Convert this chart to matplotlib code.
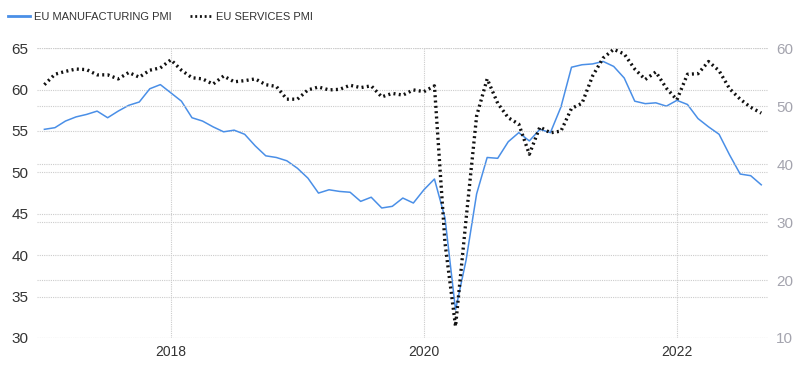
#!/usr/bin/env python3
"""EU manufacturing vs services PMI, monthly, 2017-2022 (two y axes)."""
import numpy as np
import matplotlib
matplotlib.use("Agg")
import matplotlib.pyplot as plt
from matplotlib.lines import Line2D

plt.rcParams["font.family"] = ["Liberation Sans", "DejaVu Sans"]

# Monthly readings, Jan 2017 .. Sep 2022
START_YEAR = 2017
manufacturing_pmi = [
    55.2, 55.4, 56.2, 56.7, 57.0, 57.4, 56.6, 57.4, 58.1, 58.5, 60.1, 60.6,  # 2017
    59.6, 58.6, 56.6, 56.2, 55.5, 54.9, 55.1, 54.6, 53.2, 52.0, 51.8, 51.4,  # 2018
    50.5, 49.3, 47.5, 47.9, 47.7, 47.6, 46.5, 47.0, 45.7, 45.9, 46.9, 46.3,  # 2019
    47.9, 49.2, 44.5, 33.4, 39.4, 47.4, 51.8, 51.7, 53.7, 54.8, 53.8, 55.2,  # 2020
    54.8, 57.9, 62.7, 63.0, 63.1, 63.4, 62.8, 61.4, 58.6, 58.3, 58.4, 58.0,  # 2021
    58.7, 58.2, 56.5, 55.5, 54.6, 52.1, 49.8, 49.6, 48.5,                    # 2022
]
services_pmi = [
    53.7, 55.5, 56.0, 56.4, 56.3, 55.4, 55.4, 54.7, 55.8, 55.0, 56.2, 56.6,  # 2017
    58.0, 56.2, 54.9, 54.7, 53.8, 55.2, 54.2, 54.4, 54.7, 53.7, 53.4, 51.2,  # 2018
    51.2, 52.8, 53.3, 52.8, 52.9, 53.6, 53.2, 53.5, 51.6, 52.2, 51.9, 52.8,  # 2019
    52.5, 53.5, 26.4, 12.0, 30.5, 48.3, 54.7, 50.5, 48.0, 46.9, 41.7, 46.4,  # 2020
    45.4, 45.7, 49.6, 50.5, 55.2, 58.3, 59.8, 59.0, 56.4, 54.6, 55.9, 53.1,  # 2021
    51.1, 55.5, 55.6, 57.7, 56.1, 53.0, 51.2, 49.8, 48.8,                    # 2022
]
left_ticks = [30, 35, 40, 45, 50, 55, 60, 65]
right_ticks = [10, 20, 30, 40, 50, 60]
year_ticks = [2018, 2020, 2022]

COLORS = {
    "manuf": "#4a8fe7",
    "serv": "#111111",
    "grid": "#cccccc",
    "left_text": "#333333",
    "right_text": "#a4a4ae",
}


def main():
    months = START_YEAR + np.arange(len(manufacturing_pmi)) / 12.0

    fig = plt.figure(figsize=(8, 3.65), dpi=100)
    ax = fig.add_axes([0.046, 0.074, 0.914, 0.794])
    ax2 = ax.twinx()

    # grid lines for both scales (dotted, light gray)
    ax.set_ylim(30, 65)
    ax2.set_ylim(10, 60)
    ax.set_xlim(2016.94, 2022.72)
    for t in left_ticks:
        ax.axhline(t, color=COLORS["grid"], lw=0.8, ls=(0, (1, 1)), zorder=0)
    for t in right_ticks:
        ax2.axhline(t, color=COLORS["grid"], lw=0.8, ls=(0, (1, 1)), zorder=0)
    for t in year_ticks:
        ax.axvline(t, color=COLORS["grid"], lw=0.8, ls=(0, (1, 1)), zorder=0)

    ax.plot(months, manufacturing_pmi, color=COLORS["manuf"], lw=1.1, zorder=3)
    ax2.plot(months, services_pmi, color=COLORS["serv"], lw=2.4,
             ls=(0, (0.6, 1.0)), dash_capstyle="butt", zorder=4)

    ax.set_yticks(left_ticks)
    ax.set_xticks(year_ticks)
    ax.set_xticklabels([str(y) for y in year_ticks])
    ax2.set_yticks(right_ticks)

    ax.tick_params(axis="y", length=0, pad=6, labelsize=11, labelcolor=COLORS["left_text"])
    ax.tick_params(axis="x", length=0, pad=5, labelsize=10, labelcolor=COLORS["left_text"])
    ax2.tick_params(axis="y", length=0, pad=6, labelsize=11, labelcolor=COLORS["right_text"])

    for a in (ax, ax2):
        for s in a.spines.values():
            s.set_visible(False)

    handles = [
        Line2D([], [], color=COLORS["manuf"], lw=2.0),
        Line2D([], [], color=COLORS["serv"], lw=2.0, ls=(0, (0.7, 1.0))),
    ]
    fig.legend(handles, ["EU MANUFACTURING PMI", "EU SERVICES PMI"],
               loc="upper left", bbox_to_anchor=(-0.003, 0.995), ncol=2,
               frameon=False, fontsize=8, handlelength=2.0, handletextpad=0.4,
               columnspacing=1.6, labelcolor="#333333")

    fig.savefig("out.png", dpi=100, facecolor="white")
    plt.close(fig)


if __name__ == "__main__":
    main()
